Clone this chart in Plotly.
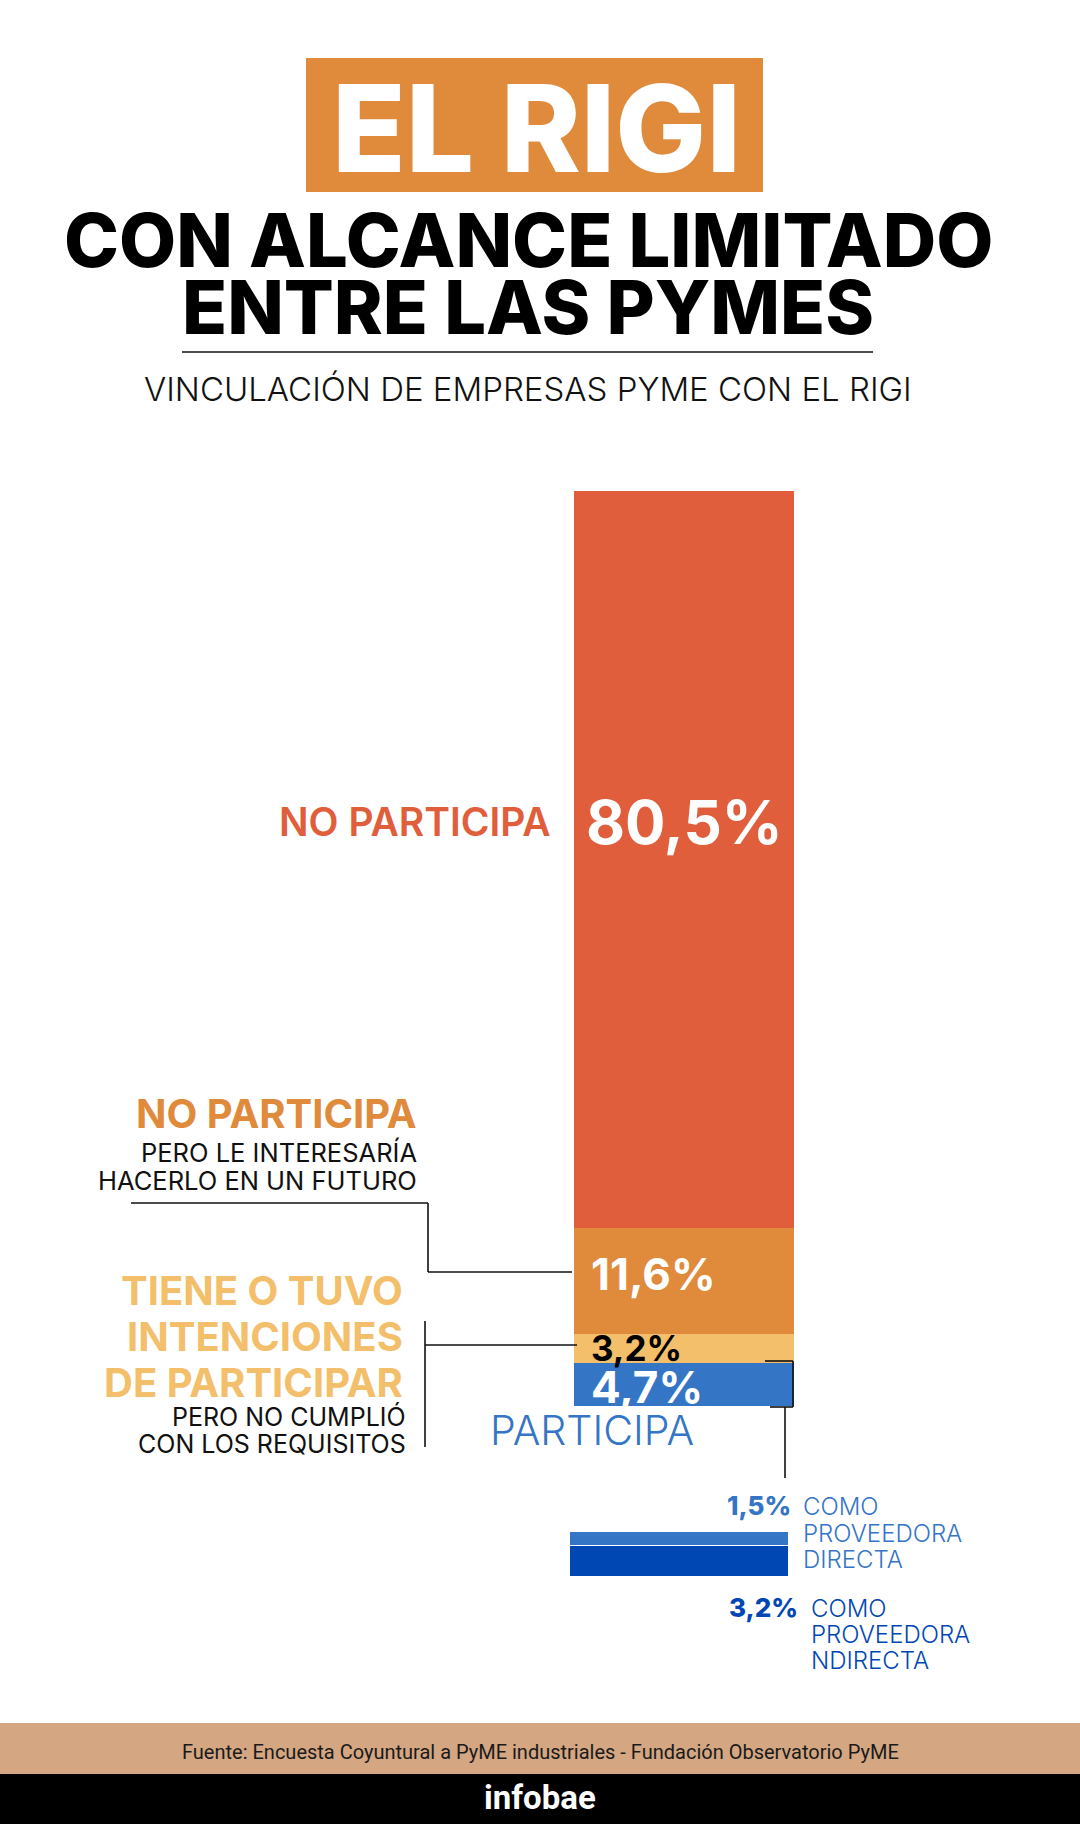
import plotly.graph_objects as go

# Vinculación de empresas PyME con el RIGI (stacked single bar + breakdown)

W, H = 1080, 1824

categories = ["PARTICIPA", "TIENE O TUVO INTENCIONES", "NO PARTICIPA PERO LE INTERESARÍA", "NO PARTICIPA"]
values = [4.7, 3.2, 11.6, 80.5]
bar_colors = ["#3575C5", "#F3BF6B", "#E08A3C", "#E05E3B"]

sub_categories = ["COMO PROVEEDORA NDIRECTA", "COMO PROVEEDORA DIRECTA"]
sub_values = [3.2, 1.5]
sub_colors = ["#0047B3", "#3575C5"]

FONT = "Inter, 'Open Sans', sans-serif"


def px(x):
    return x / W


def py(y):
    return 1 - y / H


def pct(v):
    return f"{v:.1f}%".replace(".", ",")


fig = go.Figure()

for name, v, c in zip(categories, values, bar_colors):
    fig.add_bar(x=["RIGI"], y=[v], name=name, marker=dict(color=c, line=dict(width=0)),
                xaxis="x", yaxis="y", hoverinfo="name+y")

for name, v, c in zip(sub_categories, sub_values, sub_colors):
    fig.add_bar(x=["SUB"], y=[v], name=name, marker=dict(color=c, line=dict(color="white", width=1.5)),
                xaxis="x2", yaxis="y2", hoverinfo="name+y")

shapes = []


def rect(x0, y0, x1, y1, color):
    shapes.append(dict(type="rect", xref="paper", yref="paper", x0=px(x0), x1=px(x1),
                       y0=py(y1), y1=py(y0), fillcolor=color, line=dict(width=0), layer="below"))


def polyline(points, width=1.6, color="#111111"):
    for (xa, ya), (xb, yb) in zip(points[:-1], points[1:]):
        shapes.append(dict(type="line", xref="paper", yref="paper", x0=px(xa), y0=py(ya),
                           x1=px(xb), y1=py(yb), line=dict(color=color, width=width)))


rect(306, 58, 763, 192, "#E08A3C")
rect(0, 1723, W, 1775, "#D4A682")
rect(0, 1774, W, H, "#000000")
polyline([(182, 352), (873, 352)], width=1.4)
polyline([(131, 1203), (428, 1203), (428, 1272), (572, 1272)])
polyline([(425, 1321), (425, 1447)])
polyline([(425, 1345), (577, 1345)])
polyline([(765, 1361), (793, 1361), (793, 1407), (770, 1407)])
polyline([(785, 1407), (785, 1478)])

annotations = []


def label(text, x, y, size, color="#111111", weight=400, anchor="center", family=FONT):
    annotations.append(dict(text=text, x=px(x), y=py(y), xref="paper", yref="paper",
                            xanchor=anchor, yanchor="middle", showarrow=False,
                            font=dict(family=family, size=size, color=color, weight=weight)))


# header
label("EL RIGI", 536, 128, 121, "white", 800)
label("CON ALCANCE LIMITADO", 528, 240, 74, "#000000", 800)
label("ENTRE LAS PYMES", 528, 307, 74, "#000000", 800)
label("VINCULACIÓN DE EMPRESAS PYME CON EL RIGI", 528, 389, 33, "#111111", 300)

# left labels
label("NO PARTICIPA", 553, 822, 39, "#E05E3B", 600, "right")
label("NO PARTICIPA", 419, 1113, 40, "#E08A3C", 700, "right")
label("PERO LE INTERESARÍA", 419, 1152, 25.5, "#111111", 400, "right")
label("HACERLO EN UN FUTURO", 419, 1180, 25.5, "#111111", 400, "right")
label("TIENE O TUVO", 405, 1290, 40, "#F3BF6B", 700, "right")
label("INTENCIONES", 405, 1336, 40, "#F3BF6B", 700, "right")
label("DE PARTICIPAR", 405, 1382, 40, "#F3BF6B", 700, "right")
label("PERO NO CUMPLIÓ", 408, 1416, 25, "#111111", 400, "right")
label("CON LOS REQUISITOS", 408, 1444, 25, "#111111", 400, "right")
label("PARTICIPA", 592, 1430, 41, "#3575C5", 300)

# value labels inside the main bar, placed at each segment's midpoint
shifts = [-2, 0, 7, 37]
text_colors = ["white", "#000000", "white", "white"]
sizes = [44, 35, 44, 60]
base = 0
for v, s, tc, fs in zip(values, shifts, text_colors, sizes):
    big = v == max(values)
    annotations.append(dict(text=f"<b>{pct(v)}</b>", x=0.5 if big else 0.068, y=base + v / 2,
                            xref="x domain", yref="y", xanchor="center" if big else "left",
                            yanchor="middle", yshift=s, showarrow=False,
                            font=dict(family=FONT, size=fs, color=tc, weight=800)))
    base += v

# breakdown labels
label(pct(sub_values[1]), 793, 1505, 26, sub_colors[1], 800, "right")
label("COMO", 801, 1506, 24, sub_colors[1], 300, "left")
label("PROVEEDORA", 801, 1533, 24, sub_colors[1], 300, "left")
label("DIRECTA", 801, 1559, 24, sub_colors[1], 300, "left")
label(pct(sub_values[0]), 800, 1607, 26, sub_colors[0], 800, "right")
label("COMO", 809, 1608, 24, sub_colors[0], 300, "left")
label("PROVEEDORA", 809, 1634, 24, sub_colors[0], 300, "left")
label("NDIRECTA", 809, 1660, 24, sub_colors[0], 300, "left")

# footer
label("Fuente: Encuesta Coyuntural a PyME industriales - Fundación Observatorio PyME",
      540, 1752, 20, "#1a1a1a", 400, family="Roboto")
label("infobae", 540, 1797, 33, "white", 700, family="Roboto")

fig.update_layout(
    width=W, height=H,
    margin=dict(l=0, r=0, t=0, b=0),
    paper_bgcolor="white", plot_bgcolor="rgba(0,0,0,0)",
    barmode="stack", bargap=0, showlegend=False,
    xaxis=dict(domain=[px(574), px(794)], visible=False, fixedrange=True),
    yaxis=dict(domain=[py(1406), py(491)], range=[0, 100], visible=False, fixedrange=True),
    xaxis2=dict(domain=[px(570), px(789)], anchor="y2", visible=False, fixedrange=True),
    yaxis2=dict(domain=[py(1577), py(1532)], range=[0, sum(sub_values)], anchor="x2",
                visible=False, fixedrange=True),
    shapes=shapes,
    annotations=annotations,
)

fig.write_html("out.html", config={"displayModeBar": False},
               post_script="document.body.style.margin='0';")
